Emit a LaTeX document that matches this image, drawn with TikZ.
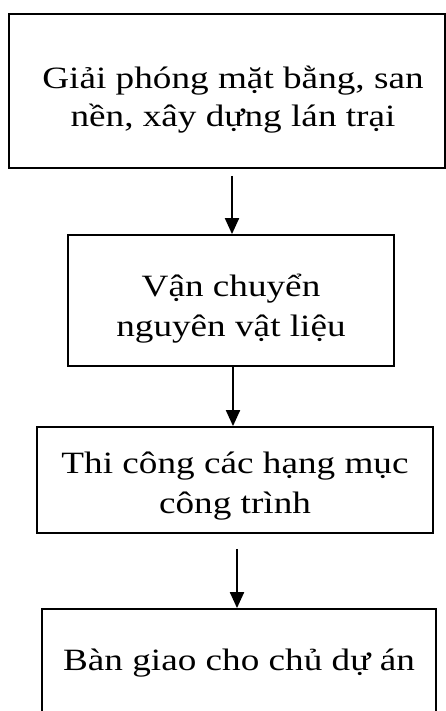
\documentclass[tikz,border=0pt]{standalone}
\usepackage{fontspec}
\setmainfont[FakeStretch=1.2]{Liberation Serif}
\usetikzlibrary{arrows.meta}
\begin{document}
\begin{tikzpicture}[x=1pt,y=-1pt,
  stepbox/.style={draw=black, line width=1.8pt, rectangle, inner sep=0pt},
  label/.style={align=center, anchor=base, inner sep=0pt},
  arr/.style={draw=black, line width=2pt, -{Triangle[length=16pt,width=14pt]}}]
\useasboundingbox (0,0) rectangle (446,711);
\clip (0,0) rectangle (446,711);
% process boxes (the last one runs past the lower edge)
\node[stepbox, minimum width=436pt, minimum height=154pt] (b1) at (227,91) {};
\node[stepbox, minimum width=326pt, minimum height=131pt] (b2) at (231,300.5) {};
\node[stepbox, minimum width=396pt, minimum height=106pt] (b3) at (235,480) {};
\node[stepbox, minimum width=394pt, minimum height=130pt] (b4) at (239,674) {};
% step texts (placed by the baseline of their last line)
\node[label, font=\fontsize{31}{38}\selectfont] (t1) at (233,127) {Giải phóng mặt bằng, san\\nền, xây dựng lán trại};
\node[label, font=\fontsize{31}{40}\selectfont] (t2) at (231,336) {Vận chuyển\\nguyên vật liệu};
\node[label, font=\fontsize{31}{40}\selectfont] (t3) at (235,513) {Thi công các hạng mục\\công trình};
\node[label, font=\fontsize{31}{40}\selectfont] (t4) at (239,670) {Bàn giao cho chủ dự án};
% flow arrows
\draw[arr, shorten <=7pt] ([xshift=5pt]b1.south) -- ([xshift=1pt]b2.north);
\draw[arr] ([xshift=2pt]b2.south) -- ([xshift=-2pt]b3.north);
\draw[arr, shorten <=15pt] ([xshift=2pt]b3.south) -- ([xshift=-2pt]b4.north);
\end{tikzpicture}
\end{document}
